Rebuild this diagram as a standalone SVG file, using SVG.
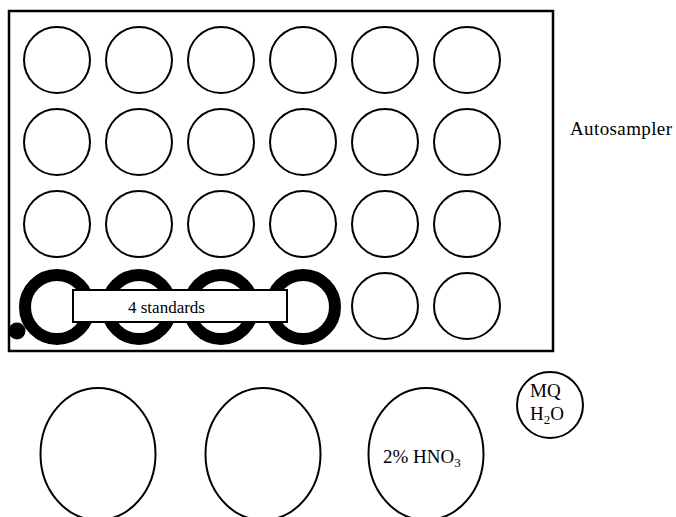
<svg xmlns="http://www.w3.org/2000/svg" width="676" height="517" viewBox="0 0 676 517">
<style>
.v{fill:none;stroke:#000;stroke-width:2}
.std{fill:none;stroke:#000;stroke-width:12}
text{font-family:'Liberation Serif','Times New Roman','DejaVu Serif',serif;fill:#000}
</style>
<rect width="676" height="517" fill="#fff"/>
<g id="autosampler">
<rect x="9" y="11" width="544" height="340" fill="#fff" stroke="#000" stroke-width="2.5"/>
<text x="570" y="135" font-size="19" font-family="Liberation Serif, serif" textLength="102">Autosampler</text>
</g>
<g id="vials">
<circle class="v" cx="57" cy="60" r="33"/><circle class="v" cx="139" cy="60" r="33"/><circle class="v" cx="221" cy="60" r="33"/><circle class="v" cx="303" cy="60" r="33"/><circle class="v" cx="385" cy="60" r="33"/><circle class="v" cx="467" cy="60" r="33"/>
<circle class="v" cx="57" cy="142" r="33"/><circle class="v" cx="139" cy="142" r="33"/><circle class="v" cx="221" cy="142" r="33"/><circle class="v" cx="303" cy="142" r="33"/><circle class="v" cx="385" cy="142" r="33"/><circle class="v" cx="467" cy="142" r="33"/>
<circle class="v" cx="57" cy="224" r="33"/><circle class="v" cx="139" cy="224" r="33"/><circle class="v" cx="221" cy="224" r="33"/><circle class="v" cx="303" cy="224" r="33"/><circle class="v" cx="385" cy="224" r="33"/><circle class="v" cx="467" cy="224" r="33"/>
<circle class="v" cx="385" cy="306" r="33"/><circle class="v" cx="467" cy="306" r="33"/>
</g>
<g id="standards">
<circle class="std" cx="57" cy="307" r="32"/><circle class="std" cx="139" cy="307" r="32"/><circle class="std" cx="221" cy="307" r="32"/><circle class="std" cx="303" cy="307" r="32"/>
<circle cx="17" cy="331" r="8.5" fill="#000"/>
<rect x="73" y="290" width="214" height="32" fill="#fff" stroke="#000" stroke-width="2"/>
<text x="128" y="313" font-size="17" font-family="Liberation Serif, serif">4 standards</text>
</g>
<g id="bottle1"><ellipse class="v" cx="98" cy="454" rx="57.5" ry="66"/></g>
<g id="bottle2"><ellipse class="v" cx="263" cy="454" rx="57.5" ry="66"/></g>
<g id="bottle3"><ellipse class="v" cx="426" cy="454" rx="57.5" ry="66"/>
<text x="383" y="463" font-size="19" font-family="Liberation Serif, serif">2% HNO<tspan font-size="13" dy="4">3</tspan></text></g>
<g id="mq"><circle class="v" cx="550" cy="405" r="33"/>
<text x="530" y="397" font-size="19" font-family="Liberation Serif, serif">MQ</text>
<text x="530" y="420" font-size="19" font-family="Liberation Serif, serif">H<tspan font-size="13" dy="4">2</tspan><tspan dy="-4">O</tspan></text></g>
</svg>
